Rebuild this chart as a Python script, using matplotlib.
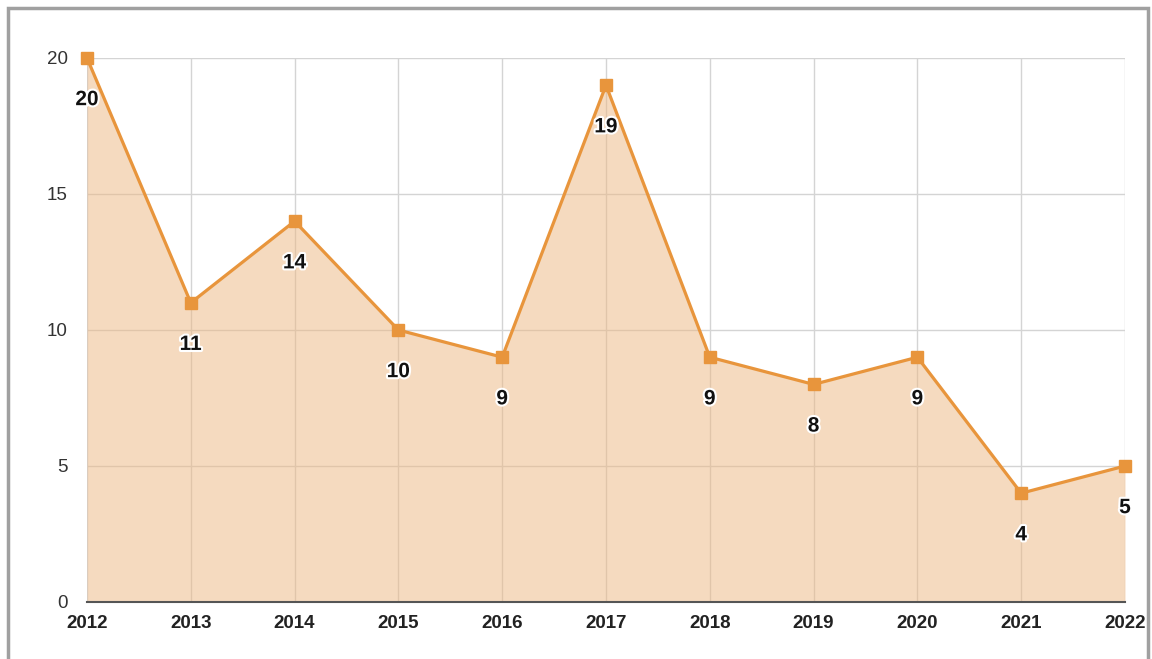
import matplotlib.pyplot as plt
import matplotlib.patheffects as pe
from matplotlib.patches import Rectangle

plt.rcParams['font.family'] = ['Liberation Sans', 'DejaVu Sans']

# datos
anios = [2012, 2013, 2014, 2015, 2016, 2017, 2018, 2019, 2020, 2021, 2022]
valores = [20, 11, 14, 10, 9, 19, 9, 8, 9, 4, 5]
yticks = [0, 5, 10, 15, 20]

naranja = "#e8953c"
relleno = "#edb781"  # con alpha 0.5 -> #f6dbc0 aprox
rejilla = "#d4d4d4"
texto = "#222222"

fig = plt.figure(figsize=(11.52, 6.59), dpi=100)
fig.patch.set_facecolor("white")

# marco gris alrededor
fig.patches.append(Rectangle((8 / 1152, -0.05), (1148 - 8) / 1152, (651 + 33) / 659,
                             transform=fig.transFigure, fill=False,
                             edgecolor="#a0a0a0", linewidth=2.5))

ax = fig.add_axes([87 / 1152, 57 / 659, (1125 - 87) / 1152, (602 - 58) / 659])
ax.set_xlim(anios[0], anios[-1])
ax.set_ylim(0, 20)

ax.grid(True, color=rejilla, linewidth=1, zorder=0)
ax.set_axisbelow(True)

ax.fill_between(anios, valores, 0, color=relleno, alpha=0.5, linewidth=0, zorder=1)
ax.plot(anios, valores, color=naranja, linewidth=2.3, marker="s",
        markersize=9, zorder=3, clip_on=False)

# etiquetas de valores
for x, y in zip(anios, valores):
    ax.annotate(str(y), (x, y), xytext=(0, -30), textcoords="offset points",
                ha="center", va="center", fontsize=15, fontweight="bold",
                color="#111111", zorder=4,
                path_effects=[pe.withStroke(linewidth=3, foreground="white")])

ax.set_xticks(anios)
ax.set_xticklabels([str(a) for a in anios], fontweight="bold", fontsize=13.5, color=texto)
ax.set_yticks(yticks)
ax.set_yticklabels([str(v) for v in yticks], fontsize=13.5, color="#333333")
ax.tick_params(axis="x", length=0, pad=9)
ax.tick_params(axis="y", length=0, pad=14)

for s in ["top", "right", "left"]:
    ax.spines[s].set_visible(False)
ax.spines["bottom"].set_color("#555555")
ax.spines["bottom"].set_linewidth(1.5)

fig.savefig("out.png", dpi=100)
